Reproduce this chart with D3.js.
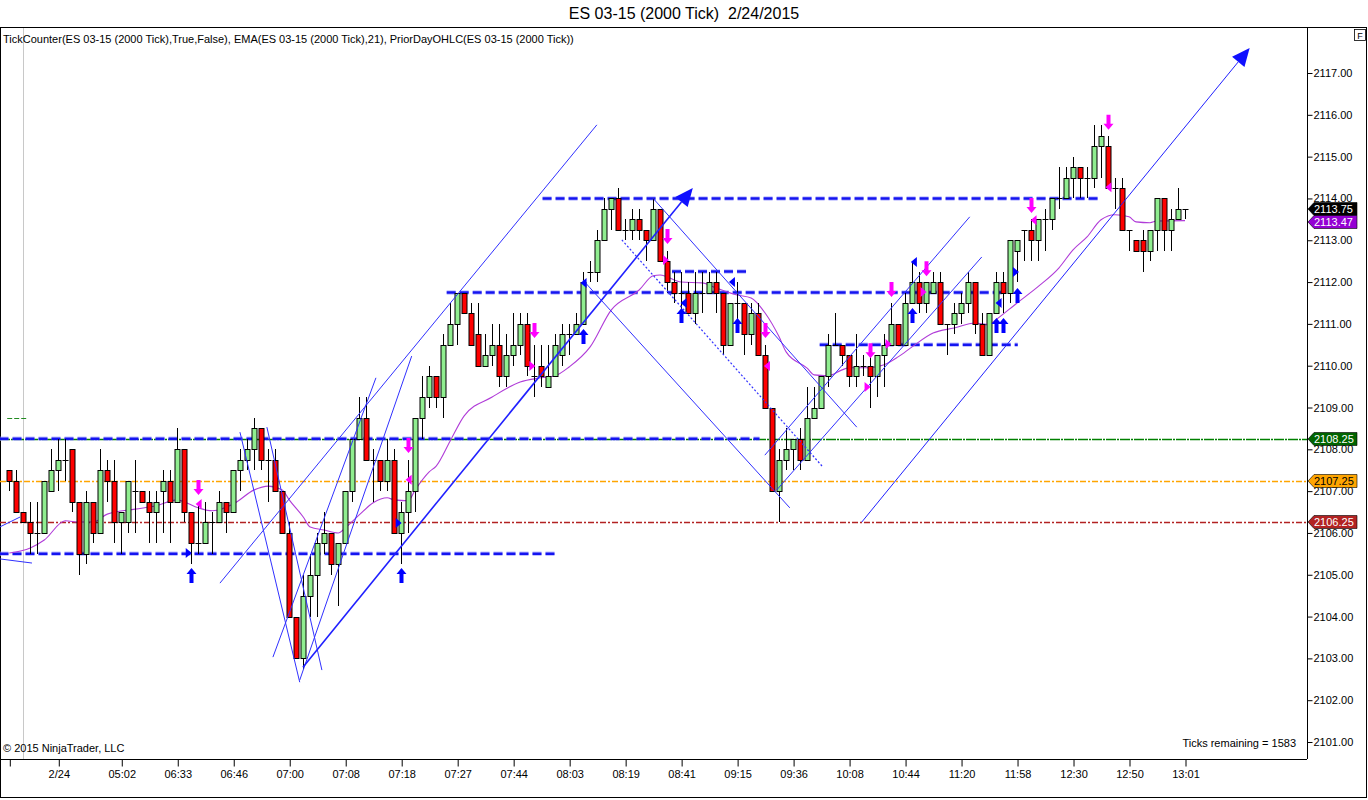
<!DOCTYPE html>
<html lang="en">
<head>
  <meta charset="utf-8">
  <title>ES 03-15 (2000 Tick) 2/24/2015</title>
  <script src="https://d3js.org/d3.v7.min.js"></script>
  <style>
    body { margin: 0; background: #fff; }
    svg text { font-family: "Liberation Sans", Arial, sans-serif; }
  </style>
</head>
<body>
<div id="chart"></div>
<script>
"use strict"

// ---- data ----
const chartTitle = "ES 03-15 (2000 Tick)  2/24/2015";
const legendText = "TickCounter(ES 03-15 (2000 Tick),True,False), EMA(ES 03-15 (2000 Tick),21), PriorDayOHLC(ES 03-15 (2000 Tick))";

// one entry per 2000-tick bar, bar 0 .. 168
const open = [2107.5,2107.25,2106.5,2106.25,2106,2106,2107,2107.5,2107.75,2108,
  2106.75,2105.5,2106.75,2106,2107.5,2107.25,2106.25,2106.25,2107,2107,
  2106.75,2106.5,2107,2107.25,2106.75,2108,2106.5,2105.75,2105.75,2106.25,
  2106.25,2106.75,2106.5,2107.5,2107.75,2108,2108.5,2107.75,2107.75,2107,
  2106,2104,2103,2104.5,2105,2105.75,2106,2105.25,2105.75,2107,
  2108.25,2108.75,2107.75,2107.75,2107.25,2107.75,2106,2106.5,2107,2108.75,
  2109.25,2109.75,2109.25,2110.5,2111,2111.75,2111.25,2110.75,2110,2110.25,
  2110.5,2109.75,2110.25,2110.5,2111,2109.75,2110,2109.5,2109.75,2110.25,
  2110.75,2110.75,2111,2112.25,2112.25,2113,2113.75,2114,2113.25,2113.25,
  2113.5,2113.25,2113,2113.75,2112.5,2112,2111.75,2111.75,2111.25,2111.75,
  2111.75,2112,2111.75,2110.5,2111.5,2111.5,2110.75,2111.25,2110.25,2109,
  2107,2107.75,2108,2108.25,2107.75,2108.75,2109,2109.75,2110.5,2110.5,
  2110.25,2109.75,2110,2110,2109.75,2110.25,2110.5,2111,2110.5,2111.5,
  2112,2111.5,2111.75,2112,2111,2111,2111.25,2111.5,2112,2111,
  2110.25,2111.25,2112,2111.75,2112.75,2113.25,2113.25,2113,2113.5,2113.5,
  2114,2114,2114.5,2114.75,2114.5,2114.5,2115.25,2115.25,2114.25,2114.25,
  2113.25,2113,2113,2112.75,2113.25,2114,2113.25,2113.5,2113.75];
const high = [2107.5,2107.5,2106.5,2106.75,2106.75,2107.25,2108,2108.25,2108.25,2108,
  2106.75,2107,2106.75,2108,2107.75,2107.75,2106.5,2107.25,2107.75,2107,
  2107,2107,2107.5,2107.5,2108.5,2108,2106.5,2106.75,2106.75,2106.5,
  2107,2106.75,2107.5,2108,2108.25,2108.75,2108.5,2108,2108,2107,
  2106.25,2104,2105,2105.5,2106,2106.5,2106,2105.75,2107,2108.25,
  2109.25,2109.25,2108,2107.75,2108.25,2108,2106.75,2107.75,2108.75,2109.75,
  2110,2109.75,2110.75,2111.5,2111.75,2111.75,2111.5,2111.5,2110.75,2111,
  2111,2110.75,2111.25,2111.25,2111.25,2110.5,2110.5,2110.5,2110.75,2111,
  2111,2111.25,2112.25,2112.5,2113.25,2114,2114,2114.25,2113.5,2113.75,
  2113.75,2113.25,2114,2113.75,2112.75,2112.25,2112.25,2112,2112.25,2112.25,
  2112.25,2112.25,2111.75,2111.5,2112,2111.5,2111.5,2111.5,2110.5,2109,
  2108,2108.5,2108.25,2108.5,2109.5,2109.5,2109.75,2110.75,2111.25,2110.5,
  2110.25,2110.75,2110.25,2110.25,2110.25,2110.75,2111.5,2111,2111.75,2112.5,
  2112.25,2112,2112.25,2112.25,2111,2111.5,2111.75,2112.25,2112,2111.25,
  2111.25,2112.25,2112.25,2113,2113,2113.25,2113.5,2113.5,2113.75,2114,
  2114.75,2114.75,2115,2114.75,2114.75,2115.75,2115.75,2115.5,2114.5,2114.5,
  2113.25,2113,2113.25,2113.25,2114,2114,2113.75,2114.25,2113.75];
const low = [2107,2106.5,2106.25,2105.5,2105.5,2106,2107,2107,2107.25,2106.5,
  2105,2105.25,2105.75,2106,2106.75,2105.75,2105.5,2106,2106,2106.75,
  2105.75,2105.75,2106,2105.75,2106.75,2106.25,2105.25,2105.5,2105.75,2105.5,
  2106.25,2106,2106.5,2107,2107.5,2107.5,2107.5,2106.75,2107,2106,
  2104,2103,2102.75,2104,2104,2105.5,2105,2104.25,2105.75,2106.75,
  2108.25,2107.75,2106.75,2107,2107,2106,2105.25,2106,2106.5,2108.25,
  2109,2109,2108.75,2110.5,2110.5,2111.25,2110.5,2110,2110,2110,
  2109.5,2109.5,2110,2110.25,2109.75,2109.25,2109.5,2109.5,2109.75,2110,
  2110.25,2110.75,2111,2112,2112,2113,2113.25,2113.25,2113,2113,
  2113,2112.5,2113,2112.5,2111.75,2111.5,2111.25,2111.25,2111,2111.25,
  2111.75,2111.25,2110.25,2110.5,2111,2110.25,2110.5,2110.25,2109,2107,
  2106.25,2107.5,2107.5,2107.5,2107.75,2108.75,2109,2109.5,2110.5,2110,
  2109.5,2109.5,2109.75,2109,2109.25,2109.5,2110.5,2110.5,2110.5,2111.5,
  2111.25,2111.25,2111.75,2111,2110.25,2110.75,2111,2111.25,2110.75,2110.25,
  2110.25,2111.25,2111.25,2111.5,2112,2112.5,2112.5,2112.5,2112.75,2113.25,
  2113.75,2114,2114,2114,2114,2114.25,2114.5,2114.25,2113.75,2113.25,
  2112.75,2112.75,2112.25,2112.5,2112.75,2112.75,2112.75,2113.5,2113.5];
const close = [2107.25,2106.5,2106.25,2106,2106,2107.25,2107.5,2107.75,2107.75,2106.75,
  2105.5,2106.75,2106,2107.5,2107.25,2106.25,2106.5,2107.25,2107,2106.75,
  2106.5,2106.75,2107.25,2106.75,2108,2106.5,2105.75,2105.75,2106.25,2106.25,
  2106.75,2106.5,2107.5,2107.75,2108,2108.5,2107.75,2107.75,2107,2106,
  2104,2103,2104.5,2105,2105.75,2106,2105.25,2105.75,2107,2108.25,
  2108.75,2107.75,2107.75,2107.25,2107.75,2106,2106.5,2107,2108.75,2109.25,
  2109.75,2109.25,2110.5,2111,2111.75,2111.25,2110.5,2110,2110.25,2110.5,
  2109.75,2110.25,2110.5,2111,2110,2109.75,2109.75,2109.75,2110.5,2110.75,
  2110.75,2111,2112,2112.25,2113,2113.75,2114,2113.25,2113.25,2113.5,
  2113.25,2113,2113.75,2112.5,2112,2111.75,2111.75,2111.25,2111.75,2111.75,
  2112,2111.75,2110.5,2111.5,2111.5,2110.75,2111.25,2110.25,2109,2107,
  2107.75,2108,2108.25,2107.75,2108.75,2109,2109.75,2110.5,2110.5,2110.25,
  2109.75,2110,2110,2109.75,2110.25,2110.5,2111,2110.5,2111.5,2112,
  2111.5,2112,2112,2111,2111,2111.25,2111.5,2112,2111,2110.25,
  2111.25,2112,2111.75,2113,2113,2113.25,2113,2113.5,2113.5,2114,
  2114,2114.5,2114.75,2114.5,2114.5,2115.25,2115.5,2114.25,2114.25,2113.25,
  2113.25,2112.75,2112.75,2113.25,2114,2113.25,2113.5,2113.75,2113.75];

// time axis: bar index of each tick and its label
const timeTickBars = [0, 7, 16, 24, 32, 40, 48, 56, 64, 72, 80, 88, 96, 104, 112, 120, 128, 136, 144, 152, 160, 168];
const timeTickLabels = ["", "2/24", "05:02", "06:33", "06:46", "07:00", "07:08", "07:18", "07:27", "07:44", "08:03",
  "08:19", "08:41", "09:15", "09:36", "10:08", "10:44", "11:20", "11:58", "12:30", "12:50", "13:01"];
const priceTicks = d3.range(2101, 2118, 1);

// EMA(21) read at sample bars
const emaBars = [0,3,5,8,10,12,14,18,21,24,25,27,29,32,35,37,39,40,42,43,45,47,48,50,52,54,55,57,58,60,
  61,63,65,69,73,76,78,80,83,86,90,92,93,96,99,101,104,106,108,110,111,114,115,117,119,120,123,125,127,129,
  132,135,138,140,141,144,147,150,152,154,156,158,160,161,163,164,168];
const emaPrices = [2105.52,2105.64,2105.83,2106.29,2106.26,2106.26,2106.45,2106.57,2106.65,2106.79,2106.74,2106.6,2106.53,2106.69,2107.03,2107.12,2107.03,2106.79,2106.38,2106.14,
  2106.07,2106.0,2106.12,2106.43,2106.72,2106.84,2106.79,2106.77,2107.03,2107.46,
  2107.6,2108.2,2108.8,2109.25,2109.61,2109.71,2109.76,2109.97,2110.45,2111.33,2111.81,2112.15,2112.17,2112.0,2111.98,2111.86,2111.69,2111.62,2111.26,2110.69,
  2110.33,2109.94,2109.78,2109.76,2109.9,2109.95,2109.95,2110.02,2110.21,2110.45,
  2110.78,2110.9,2111.02,2110.98,2111.1,2111.5,2111.89,2112.34,2112.77,2113.08,2113.49,2113.61,2113.56,2113.44,2113.42,2113.46,2113.47];
const emaLast = 2113.47;

// prior day high / open / low lines
const priorDayPrices = [2108.25, 2107.25, 2106.25];

// hand drawn dashed levels: [price, fromBar, toBar]
const dashedLevels = [
  [2108.25, -1.4, 107.2],
  [2105.5, -1.4, 78.4],
  [2114.0, 76.2, 155.8],
  [2111.75, 62.5, 142.2],
  [2112.25, 94.7, 105.8],
  [2110.5, 115.8, 144.1]
];
const oldLevel = [2108.75, -0.3, 2.5];

// hand drawn trend lines: [bar1, price1, bar2, price2]
const trendLines = [
  [30.1, 2104.80, 83.96, 2115.76],
  [-1.4, 2106.14, 1.53, 2106.38],
  [-1.4, 2105.38, 3.24, 2105.28],
  [32.96, 2108.41, 41.5, 2102.43],
  [36.81, 2108.53, 44.67, 2102.72],
  [37.67, 2103.03, 52.39, 2109.71],
  [41.5, 2102.48, 57.5, 2110.23],
  [81.96, 2112.05, 111.53, 2106.60],
  [91.96, 2114.01, 121.1, 2108.53],
  [107.96, 2107.86, 137.24, 2113.56],
  [109.67, 2107.03, 138.96, 2112.60]
];
const dottedLine = [87.53, 2113.01, 116.24, 2107.58];
const arrowLines = [
  [41.96, 2102.79, 97.67, 2114.25],
  [121.81, 2106.26, 177.24, 2117.6]
];

// TickCounter signal arrows: bar index, price at the arrow tip
const upArrowBars = [26, 56, 82, 96, 104, 129, 141, 142, 144];
const upArrowPrices = [2105.16, 2105.16, 2110.88, 2111.38, 2111.14, 2111.38, 2111.14, 2111.14, 2111.86];
const downArrowBars = [27, 57, 75, 94, 108, 123, 126, 131, 146, 157];
const downArrowPrices = [2106.91, 2107.91, 2110.66, 2112.91, 2110.66, 2110.18, 2111.64, 2112.14, 2113.65, 2115.64];
// small triangles: bar, price, pointing direction (1 right, -1 left)
const pinkMarks = [[27.2, 2106.69, -1], [57.2, 2107.27, -1], [74.6, 2109.99, 1], [93.7, 2112.53, 1], [108.4, 2109.99, -1],
  [122.5, 2109.49, 1], [125.5, 2110.52, 1], [130.5, 2111.76, 1], [146.5, 2113.48, -1], [157.2, 2114.27, -1]];
const blueMarks = [[25.5, 2105.52, 1], [55.5, 2106.24, 1], [82.2, 2111.98, -1], [96.5, 2111.5, -1], [103.4, 2112.0, -1],
  [129.4, 2112.48, -1], [143.7, 2112.24, 1], [141.5, 2111.5, -1]];

const ticksRemaining = 1583;

// ---- drawing ----
const W = 1368, H = 800;
const plot = {left: 0, top: 27, right: 1307, bottom: 759};

const svg = d3.select('#chart').append('svg')
  .attr('width', W).attr('height', H);

svg.append('defs').append('clipPath').attr('id', 'plotclip')
  .append('rect')
  .attr('x', plot.left).attr('y', plot.top + 1)
  .attr('width', plot.right - plot.left).attr('height', plot.bottom - plot.top - 1);

const x = d3.scaleLinear().domain([0, 168]).range([9.3, 1185]);
const y = d3.scaleLinear().domain([2101, 2117]).range([742, 73]);
const px = v => Math.round(x(v)) + 0.5;

// title (keeps the double space)
svg.append('text')
  .attr('x', W / 2).attr('y', 19)
  .attr('text-anchor', 'middle')
  .style('font-size', '16px')
  .style('white-space', 'pre')
  .text(chartTitle);

// frame
svg.append('rect')
  .attr('x', 0.5).attr('y', plot.top + 0.5)
  .attr('width', W - 2).attr('height', H - plot.top - 3)
  .attr('fill', 'none').attr('stroke', '#000');

const g = svg.append('g').attr('clip-path', 'url(#plotclip)');

// session break
g.append('line')
  .attr('x1', 23.5).attr('x2', 23.5)
  .attr('y1', plot.top).attr('y2', plot.bottom)
  .attr('stroke', '#c8c8c8');

// prior day levels
const pdColors = ['#008000', '#ffa500', '#b22222'];
g.selectAll('line.pd').data(priorDayPrices).enter().append('line')
  .attr('class', 'pd')
  .attr('x1', plot.left).attr('x2', plot.right)
  .attr('y1', d => Math.round(y(d)) + 0.5).attr('y2', d => Math.round(y(d)) + 0.5)
  .attr('stroke', (d, i) => pdColors[i])
  .attr('stroke-width', 1.3)
  .attr('stroke-dasharray', (d, i) => i === 0 ? '10,1,2,1' : '6,2,2,2');

g.append('line')
  .attr('x1', x(oldLevel[1])).attr('x2', x(oldLevel[2]))
  .attr('y1', Math.round(y(oldLevel[0])) + 0.5).attr('y2', Math.round(y(oldLevel[0])) + 0.5)
  .attr('stroke', '#228b22').attr('stroke-dasharray', '5,2');

// dashed hand drawn levels (with a light halo like the original)
g.selectAll('line.lvhalo').data(dashedLevels).enter().append('line')
  .attr('class', 'lvhalo')
  .attr('x1', d => x(d[1])).attr('x2', d => x(d[2]))
  .attr('y1', d => y(d[0])).attr('y2', d => y(d[0]))
  .attr('stroke', '#9a9aff').attr('stroke-width', 4.5)
  .attr('stroke-dasharray', '9,4').attr('opacity', 0.6);
g.selectAll('line.lv').data(dashedLevels).enter().append('line')
  .attr('class', 'lv')
  .attr('x1', d => x(d[1])).attr('x2', d => x(d[2]))
  .attr('y1', d => y(d[0])).attr('y2', d => y(d[0]))
  .attr('stroke', '#1414f0').attr('stroke-width', 2.5)
  .attr('stroke-dasharray', '9,4');

// EMA
const emaPts = emaBars.map((b, i) => [b, emaPrices[i]]);
g.append('path')
  .datum(emaPts)
  .attr('fill', 'none')
  .attr('stroke', '#b03cd8')
  .attr('stroke-width', 1.1)
  .attr('d', d3.line().x(d => x(d[0])).y(d => y(d[1])).curve(d3.curveMonotoneX));

// candles
const bars = d3.range(open.length).map(i => ({i: i, o: open[i], h: high[i], l: low[i], c: close[i]}));
const cg = g.append('g');
cg.selectAll('line.wick').data(bars).enter().append('line')
  .attr('class', 'wick')
  .attr('x1', d => px(d.i)).attr('x2', d => px(d.i))
  .attr('y1', d => Math.round(y(d.h))).attr('y2', d => Math.round(y(d.l)))
  .attr('stroke', '#000');
cg.selectAll('rect.body').data(bars.filter(d => d.o !== d.c)).enter().append('rect')
  .attr('class', 'body')
  .attr('x', d => px(d.i) - 2.5)
  .attr('y', d => Math.round(y(Math.max(d.o, d.c))) + 0.5)
  .attr('width', 5)
  .attr('height', d => Math.round(y(Math.min(d.o, d.c))) - Math.round(y(Math.max(d.o, d.c))))
  .attr('fill', d => d.c > d.o ? '#90ee90' : '#ff0000')
  .attr('stroke', '#000');
cg.selectAll('line.doji').data(bars.filter(d => d.o === d.c)).enter().append('line')
  .attr('class', 'doji')
  .attr('x1', d => px(d.i) - 3).attr('x2', d => px(d.i) + 3)
  .attr('y1', d => Math.round(y(d.c)) + 0.5).attr('y2', d => Math.round(y(d.c)) + 0.5)
  .attr('stroke', '#000');

// trend lines
g.selectAll('line.tl').data(trendLines).enter().append('line')
  .attr('class', 'tl')
  .attr('x1', d => x(d[0])).attr('y1', d => y(d[1]))
  .attr('x2', d => x(d[2])).attr('y2', d => y(d[3]))
  .attr('stroke', '#3030ff').attr('stroke-width', 1);
g.append('line')
  .attr('x1', x(dottedLine[0])).attr('y1', y(dottedLine[1]))
  .attr('x2', x(dottedLine[2])).attr('y2', y(dottedLine[3]))
  .attr('stroke', '#3030ff').attr('stroke-width', 1.2).attr('stroke-dasharray', '2,2');

// arrow lines with filled heads
arrowLines.forEach((d, k) => {
  const x1 = x(d[0]), y1 = y(d[1]), x2 = x(d[2]), y2 = y(d[3]);
  const ang = Math.atan2(y2 - y1, x2 - x1);
  const len = 18, half = 8;
  const bx = x2 - len * Math.cos(ang), by = y2 - len * Math.sin(ang);
  g.append('line')
    .attr('x1', x1).attr('y1', y1).attr('x2', bx).attr('y2', by)
    .attr('stroke', '#2020ff').attr('stroke-width', k === 0 ? 1.6 : 1);
  const pts = [[x2, y2],
    [bx + half * Math.sin(ang), by - half * Math.cos(ang)],
    [bx - half * Math.sin(ang), by + half * Math.cos(ang)]];
  g.append('polygon')
    .attr('points', pts.map(p => p.join(',')).join(' '))
    .attr('fill', '#1010ff');
});

// signal arrows
const upShape = '0,0 -5,6 -2,6 -2,15 2,15 2,6 5,6';
const downShape = '0,0 -5,-6 -2,-6 -2,-15 2,-15 2,-6 5,-6';
g.selectAll('polygon.up').data(upArrowBars).enter().append('polygon')
  .attr('class', 'up')
  .attr('points', upShape)
  .attr('transform', (d, i) => 'translate(' + px(d) + ',' + y(upArrowPrices[i]) + ')')
  .attr('fill', '#0000ff');
g.selectAll('polygon.down').data(downArrowBars).enter().append('polygon')
  .attr('class', 'down')
  .attr('points', downShape)
  .attr('transform', (d, i) => 'translate(' + px(d) + ',' + y(downArrowPrices[i]) + ')')
  .attr('fill', '#ff00ff');

function tri(sel, data, color) {
  sel.selectAll(null).data(data).enter().append('polygon')
    .attr('points', d => d[2] > 0 ? '4,0 -2,-5 -2,5' : '-4,0 2,-5 2,5')
    .attr('transform', d => 'translate(' + x(d[0]) + ',' + y(d[1]) + ')')
    .attr('fill', color);
}
tri(g, pinkMarks, '#ff00ff');
tri(g, blueMarks, '#0000ff');

// legend and footers
svg.append('text')
  .attr('x', 3).attr('y', 43)
  .style('font-size', '11px')
  .text(legendText);
svg.append('text')
  .attr('x', 3).attr('y', 752)
  .style('font-size', '11px')
  .text('\u00a9 2015 NinjaTrader, LLC');
svg.append('text')
  .attr('x', 1296).attr('y', 747)
  .attr('text-anchor', 'end')
  .style('font-size', '11px')
  .text('Ticks remaining = ' + ticksRemaining);

// price axis
svg.append('line')
  .attr('x1', plot.right + 0.5).attr('x2', plot.right + 0.5)
  .attr('y1', plot.top).attr('y2', plot.bottom)
  .attr('stroke', '#000');
const yAxis = svg.append('g')
  .attr('transform', 'translate(' + (plot.right + 0.5) + ',0)')
  .call(d3.axisRight(y).tickValues(priceTicks).tickFormat(d3.format('.2f')).tickSize(5).tickPadding(1));
yAxis.select('.domain').remove();
yAxis.selectAll('text').style('font-size', '11px').style('font-family', '"Liberation Sans", Arial, sans-serif');

// time axis
svg.append('line')
  .attr('x1', 0).attr('x2', plot.right)
  .attr('y1', plot.bottom + 0.5).attr('y2', plot.bottom + 0.5)
  .attr('stroke', '#000');
const xAxis = svg.append('g')
  .attr('transform', 'translate(0.5,' + (plot.bottom + 0.5) + ')')
  .call(d3.axisBottom(x).tickValues(timeTickBars)
    .tickFormat((d, i) => timeTickLabels[i]).tickSize(7).tickPadding(4));
xAxis.select('.domain').remove();
xAxis.selectAll('text').style('font-size', '11px').style('font-family', '"Liberation Sans", Arial, sans-serif');

// price tags on the axis
const tagPrices = [close[close.length - 1], emaLast].concat(priorDayPrices);
const tagFill = ['#000000', '#9400d3', '#006400', '#ffa500', '#b22222'];
const tagText = ['#ffffff', '#ffffff', '#ffffff', '#000000', '#ffffff'];
const tags = svg.selectAll('g.tag').data(tagPrices).enter().append('g')
  .attr('class', 'tag')
  .attr('transform', d => 'translate(' + (plot.right + 1) + ',' + Math.round(y(d)) + ')');
tags.append('path')
  .attr('d', 'M0,0 L6,-6.5 L49,-6.5 L49,6.5 L6,6.5 Z')
  .attr('fill', (d, i) => tagFill[i]).attr('stroke', '#000').attr('stroke-width', 0.6);
tags.append('text')
  .attr('x', 6).attr('y', 4)
  .style('font-size', '11px')
  .attr('fill', (d, i) => tagText[i])
  .text(d => d3.format('.2f')(d));
// nudge the EMA tag just below the close tag
tags.filter((d, i) => i === 1).attr('transform', 'translate(' + (plot.right + 1) + ',' + (Math.round(y(emaLast)) + 1) + ')');

// "F" box top right
svg.append('rect')
  .attr('x', 1354.5).attr('y', 29.5).attr('width', 11).attr('height', 11)
  .attr('fill', '#fff').attr('stroke', '#000').attr('stroke-width', 0.8);
svg.append('text')
  .attr('x', 1360).attr('y', 38.5).attr('text-anchor', 'middle')
  .style('font-size', '9px')
  .text('F');
</script>
</body>
</html>
